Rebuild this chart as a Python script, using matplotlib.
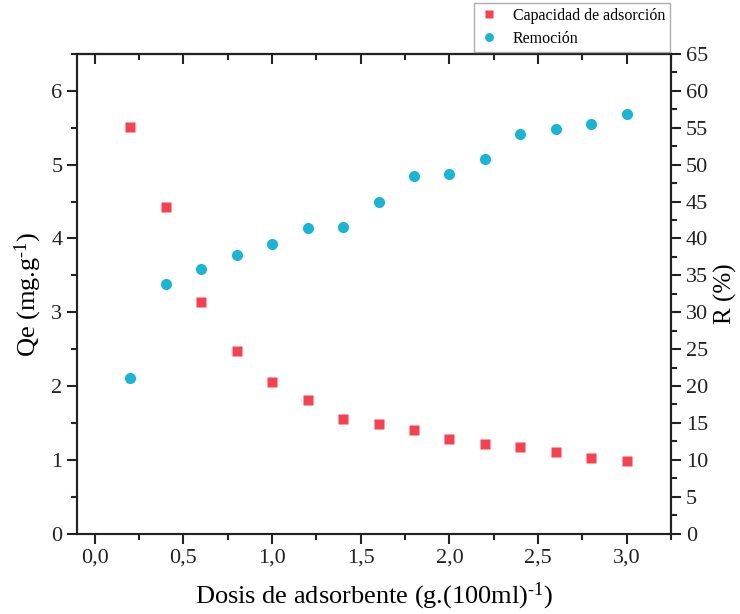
import numpy as np
import matplotlib
matplotlib.use("Agg")
import matplotlib.pyplot as plt
from matplotlib.ticker import MultipleLocator, FuncFormatter

plt.rcParams['font.family'] = ['Liberation Serif', 'DejaVu Serif']
plt.rcParams['mathtext.fontset'] = 'custom'
plt.rcParams['mathtext.rm'] = 'Liberation Serif'
plt.rcParams['mathtext.it'] = 'Liberation Serif:italic'

# dosis de adsorbente (g/100 ml)
dosis = [0.2, 0.4, 0.6, 0.8, 1.0, 1.2, 1.4, 1.6, 1.8, 2.0, 2.2, 2.4, 2.6, 2.8, 3.0]
# capacidad de adsorcion Qe (mg/g)
qe = [5.51, 4.42, 3.14, 2.47, 2.05, 1.81, 1.55, 1.48, 1.41, 1.28, 1.22, 1.18, 1.11, 1.03, 0.99]
# remocion R (%)
remocion = [21.1, 33.8, 35.9, 37.8, 39.2, 41.4, 41.5, 45.0, 48.5, 48.8, 50.8, 54.1, 54.9, 55.5, 56.9]

rojo = '#f8404f'
azul = '#19b5d6'

fig = plt.figure(figsize=(7.4, 6.14), dpi=100)
ax = fig.add_axes([0.104, 0.131, 0.803, 0.781])
ax2 = ax.twinx()

h1, = ax.plot(dosis, qe, 's', color=rojo, ms=7, mec='none', label='Capacidad de adsorción')
h2, = ax2.plot(dosis, remocion, 'o', color=azul, ms=8, mec='none', label='Remoción')

ax.set_xlim(-0.1, 3.25)
ax.set_ylim(0, 6.5)
ax2.set_ylim(0, 65)

coma = FuncFormatter(lambda v, p: ('%.1f' % v).replace('.', ','))
ax.xaxis.set_major_locator(MultipleLocator(0.5))
ax.xaxis.set_minor_locator(MultipleLocator(0.25))
ax.xaxis.set_major_formatter(coma)
ax.yaxis.set_major_locator(MultipleLocator(1))
ax.yaxis.set_minor_locator(MultipleLocator(0.5))
ax2.yaxis.set_major_locator(MultipleLocator(5))
ax2.yaxis.set_minor_locator(MultipleLocator(2.5))

for a in (ax, ax2):
    for s in a.spines.values():
        s.set_linewidth(1.5)
        s.set_color('#222222')
    a.tick_params(which='major', direction='out', length=7, width=1.5, labelsize=16, colors='#222222')
    a.tick_params(which='minor', direction='out', length=4, width=1.5, colors='#222222')

# ticks interiores en el borde superior
top = ax.secondary_xaxis('top')
top.xaxis.set_major_locator(MultipleLocator(0.5))
top.xaxis.set_minor_locator(MultipleLocator(0.25))
top.tick_params(which='major', direction='in', length=7, width=1.5, labeltop=False, colors='#222222')
top.tick_params(which='minor', direction='in', length=4, width=1.5, colors='#222222')
top.spines['top'].set_linewidth(1.5)

ax.set_xlabel('Dosis de adsorbente (g.(100ml)$^{\\text{-1}}$)', fontsize=19, labelpad=10)
ax.set_ylabel('Qe (mg.g$^{\\text{-1}}$)', fontsize=19, labelpad=5)
ax2.set_ylabel('R (%)', fontsize=18, labelpad=4)

leg = ax2.legend(handles=[h1, h2], loc='lower right', bbox_to_anchor=(1.002, 1.0),
                 fontsize=11.5, frameon=True, fancybox=False, edgecolor='#999999',
                 borderaxespad=0.15, handlelength=1.2, handletextpad=0.9,
                 labelspacing=0.45, borderpad=0.3, markerscale=0.8)
leg.get_frame().set_linewidth(1.0)

fig.savefig('out.png', dpi=100)
